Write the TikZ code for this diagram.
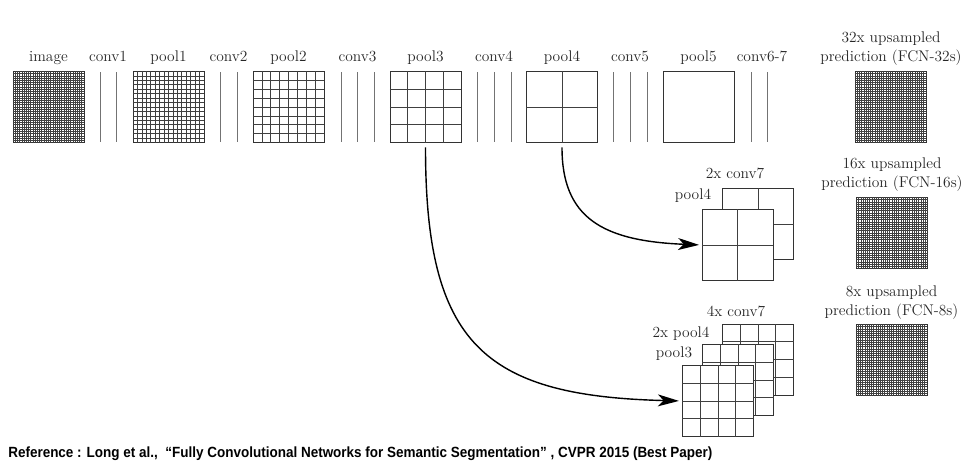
\documentclass[tikz,border=0pt]{standalone}
\usepackage{fontspec}
\usepackage{graphicx}
\newfontfamily\capfont{Liberation Sans}
\usetikzlibrary{arrows.meta, calc, positioning}
\tikzset{
  fmap/.style={rectangle, draw=black!80, line width=0.6pt, fill=white,
               minimum size=1.775cm, inner sep=0pt, outer sep=0pt},
  gridline/.style={draw=black!75, line width=0.5pt},
  convline/.style={draw=black!55, line width=0.6pt},
  lbl/.style={anchor=base, inner sep=0pt, text=black!85,
              font=\fontsize{11}{13}\selectfont},
  skip/.style={-{Stealth[length=15pt, width=8.5pt, inset=4pt]},
               line width=1pt, black},
}

% inner grid lines of a feature map node: [style]{node}{cells}
\newcommand\featgrid[3][gridline]{%
  \pgfmathtruncatemacro\lastk{#3-1}%
  \foreach \k in {1,...,\lastk}{
    \draw[#1] ($(#2.south west)!\k/#3!(#2.south east)$) -- ($(#2.north west)!\k/#3!(#2.north east)$);
    \draw[#1] ($(#2.south west)!\k/#3!(#2.north west)$) -- ($(#2.south east)!\k/#3!(#2.north east)$);
  }}

\begin{document}
\begin{tikzpicture}[x=0.025cm, y=-0.025cm]
  \useasboundingbox (0,0) rectangle (976,468);

  % forward path
  \node[fmap] (img)   at (48.5,107) {};
  \node[fmap] (pool1) at (168.5,107) {};
  \node[fmap] (pool2) at (288.5,107) {};
  \node[fmap] (pool3) at (425.5,107) {};
  \node[fmap] (pool4) at (562,107) {};
  \node[fmap] (pool5) at (698.5,107) {};
  \featgrid{img}{32}
  \featgrid{pool1}{16}
  \featgrid{pool2}{8}
  \featgrid{pool3}{4}
  \featgrid{pool4}{2}
  \foreach \x in {100,116,220,237,341,357,374,477,494,511,613,630,647,751,767}
    \draw[convline] (\x,72) -- (\x,142);

  \node[lbl] (limg)   at (48.5,61)  {image};
  \node[lbl] (lconv1) at (108,61)   {conv1};
  \node[lbl] (lpool1) at (168.5,61) {pool1};
  \node[lbl] (lconv2) at (228.5,61) {conv2};
  \node[lbl] (lpool2) at (288.5,61) {pool2};
  \node[lbl] (lconv3) at (357.5,61) {conv3};
  \node[lbl] (lpool3) at (425.5,61) {pool3};
  \node[lbl] (lconv4) at (494,61)   {conv4};
  \node[lbl] (lpool4) at (562,61)   {pool4};
  \node[lbl] (lconv5) at (630,61)   {conv5};
  \node[lbl] (lpool5) at (698.5,61) {pool5};
  \node[lbl] (lconv6) at (762,61)   {conv6-7};

  % fused maps
  \node[fmap] (back16)  at (758,224) {};
  \featgrid{back16}{2}
  \node[fmap] (front16) at (737.5,245) {};
  \featgrid{front16}{2}
  \node[lbl] (lback16)  at (735,178) {2x conv7};
  \node[lbl] (lfront16) at (693,199) {pool4};

  \node[fmap] (back8)  at (758,359.5) {};
  \featgrid{back8}{4}
  \node[fmap] (mid8)   at (738,380) {};
  \featgrid{mid8}{4}
  \node[fmap] (front8) at (718,401) {};
  \featgrid{front8}{4}
  \node[lbl] (lback8)  at (736,316) {4x conv7};
  \node[lbl] (lmid8)   at (681,337) {2x pool4};
  \node[lbl] (lfront8) at (674,357) {pool3};

  % skip connections
  \draw[skip, shorten <=3.5pt, shorten >=2pt]
    (pool4.south) .. controls +(0,75) and +(-100,-4) .. (front16.west);
  \draw[skip, shorten <=3.5pt, shorten >=2.5pt]
    (pool3.south) .. controls +(0,200) and +(-200,-5) .. (front8.west);

  % predictions
  \node[fmap] (out32) at (890.5,107) {};
  \featgrid{out32}{32}
  \node[lbl] (t32a) at (891,42) {32x upsampled};
  \node[lbl] (t32b) at (891,61) {prediction (FCN-32s)};

  \node[fmap] (out16) at (892,233) {};
  \featgrid{out16}{32}
  \node[lbl] (t16a) at (892,168) {16x upsampled};
  \node[lbl] (t16b) at (892,187) {prediction (FCN-16s)};

  \node[fmap] (out8) at (891.5,360) {};
  \featgrid{out8}{32}
  \node[lbl] (t8a) at (891.5,296) {8x upsampled};
  \node[lbl] (t8b) at (891.5,315) {prediction (FCN-8s)};

  \node[anchor=base west, inner sep=0pt] (cite) at (8,457)
    {\resizebox{17.6cm}{\height}{\capfont\bfseries\fontsize{10.5}{12}\selectfont
     Reference : Long et al.,~~“Fully Convolutional Networks for Semantic Segmentation”~, CVPR 2015 (Best Paper)}};
\end{tikzpicture}
\end{document}
